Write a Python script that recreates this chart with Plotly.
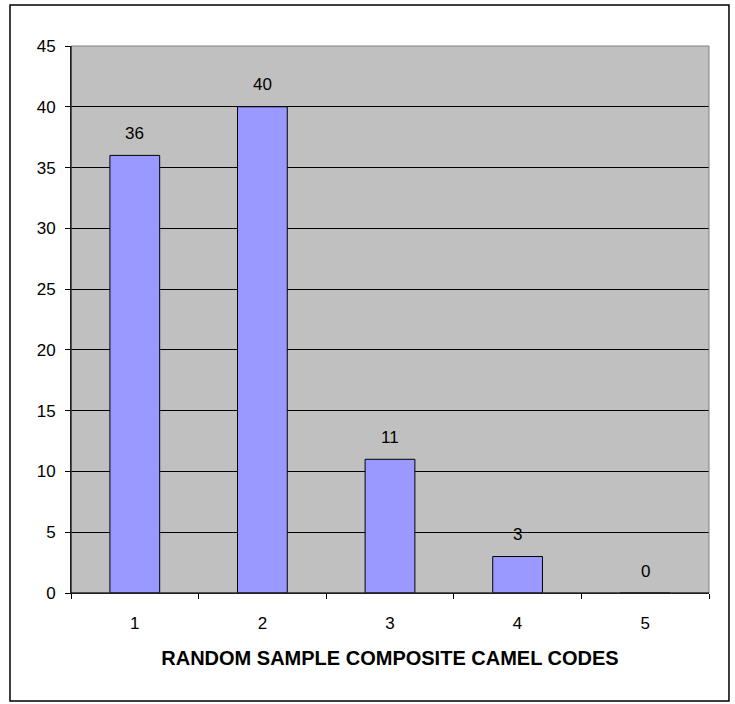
import plotly.graph_objects as go

categories = ["1", "2", "3", "4", "5"]
values = [36, 40, 11, 3, 0]
y_ticks = [0, 5, 10, 15, 20, 25, 30, 35, 40, 45]
x_title = "RANDOM SAMPLE COMPOSITE CAMEL CODES"

FONT = "Liberation Sans, Arial, sans-serif"
TICK_SIZE = 17

fig = go.Figure(
    go.Bar(
        x=categories,
        y=values,
        marker=dict(color="#9999FF", line=dict(color="black", width=1)),
        width=0.39,
        hoverinfo="x+y",
    )
)

# value labels above bars (category index on the category axis)
for i, v in enumerate(values):
    fig.add_annotation(
        x=i, y=v, text=str(v), showarrow=False,
        yanchor="middle", yshift=22,
        font=dict(family=FONT, size=TICK_SIZE, color="black"),
    )

fig.update_layout(
    width=735,
    height=704,
    margin=dict(l=71, r=26, t=46, b=111),
    paper_bgcolor="white",
    plot_bgcolor="#C0C0C0",
    font=dict(family=FONT, size=TICK_SIZE, color="black"),
    showlegend=False,
    xaxis=dict(
        type="category",
        range=[-0.5, len(categories) - 0.5],
        tickson="boundaries",
        ticks="outside",
        ticklen=5,
        tickcolor="black",
        ticklabelstandoff=15,
        showline=True,
        linecolor="black",
        linewidth=1,
        showgrid=False,
        tickfont=dict(family=FONT, size=TICK_SIZE),
        title=dict(text=x_title, font=dict(family=FONT, size=20, weight="bold"), standoff=18),
    ),
    yaxis=dict(
        range=[0, 45],
        tickvals=y_ticks,
        ticks="outside",
        ticklen=5,
        tickcolor="black",
        ticklabelstandoff=6,
        showline=True,
        linecolor="black",
        linewidth=1,
        showgrid=True,
        gridcolor="black",
        gridwidth=1,
        zeroline=False,
        tickfont=dict(family=FONT, size=TICK_SIZE),
    ),
    shapes=[
        dict(type="rect", xref="paper", yref="paper", x0=0, x1=1, y0=0, y1=1,
             line=dict(color="#808080", width=1), layer="above"),
        dict(type="rect", xref="paper", yref="paper",
             x0=-0.0956, x1=1.0313, y0=-0.1974, y1=1.075,
             line=dict(color="black", width=1.5), layer="above"),
    ],
)

fig.add_shape(type="line", xref="paper", yref="paper", x0=0, x1=0, y0=0, y1=1,
              line=dict(color="black", width=1), layer="above")
fig.add_shape(type="line", xref="paper", yref="paper", x0=0, x1=1, y0=0, y1=0,
              line=dict(color="black", width=1), layer="above")

fig.write_html("out.html", config={"displayModeBar": False},
               post_script="document.body.style.margin='0';")
